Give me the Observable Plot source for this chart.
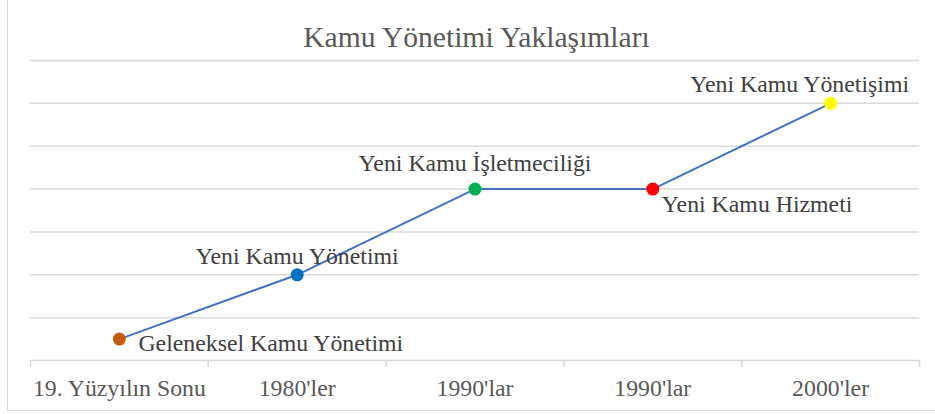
<!DOCTYPE html>
<html><head><meta charset="utf-8">
<script src="https://cdn.jsdelivr.net/npm/d3@7"></script>
<script src="https://cdn.jsdelivr.net/npm/@observablehq/plot@0.6"></script>
<style>
body{margin:0;background:#fff;}
#wrap{position:relative;width:935px;height:414px;overflow:hidden;}
#wrap svg{position:absolute;left:0;top:0;}
#border{position:absolute;left:7px;top:0;width:928px;height:411px;border-left:1.3px solid #d9d9d9;border-bottom:1.3px solid #d9d9d9;pointer-events:none;box-sizing:border-box;}
</style></head><body><div id="wrap"><div id="border"></div></div>
<script>
const title = "Kamu Yönetimi Yaklaşımları";
const categories = ["19. Yüzyılın Sonu", "1980'ler", "1990'lar", "1990'lar", "2000'ler"];
const approaches = ["Geleneksel Kamu Yönetimi", "Yeni Kamu Yönetimi", "Yeni Kamu İşletmeciliği", "Yeni Kamu Hizmeti", "Yeni Kamu Yönetişimi"];
const values = [0.5, 2, 4, 4, 6];
const pointColors = ["#C55A11", "#0070C0", "#00B050", "#FF0000", "#FFFF00"];
const yTicks = [0, 1, 2, 3, 4, 5, 6, 7];

// label placement relative to each point (text anchor, horizontal offset, baseline offset)
const labelPlacement = [
  {anchor: "start", dx: 19, dy: 11.7},
  {anchor: "middle", dx: 0, dy: -11},
  {anchor: "middle", dx: 0, dy: -18},
  {anchor: "start", dx: 9, dy: 22.7},
  {anchor: "middle", dx: -31, dy: -11.3}
];

const data = categories.map((c, i) => ({i, category: c, approach: approaches[i], value: values[i], color: pointColors[i]}));
const boundaries = d3.range(categories.length + 1).map(i => i - 0.5);
const font = "'Liberation Serif', 'Times New Roman', serif";

const chart = Plot.plot({
  width: 935,
  height: 414,
  marginLeft: 30,
  marginRight: 16,
  marginTop: 60,
  marginBottom: 54,
  style: {fontFamily: font, background: "transparent"},
  x: {type: "linear", domain: [-0.5, categories.length - 0.5], axis: null, label: null},
  y: {domain: [0, 7], axis: null, label: null},
  color: {type: "identity"},
  marks: [
    Plot.ruleY(yTicks, {stroke: "#d9d9d9", strokeWidth: 1.5}),
    Plot.axisX({ticks: boundaries, tickSize: 7, tickFormat: () => "", label: null, stroke: "#d9d9d9", strokeWidth: 1.5, strokeOpacity: 1}),
    Plot.text(data, {x: "i", y: () => 0, text: "category", dy: 35, lineAnchor: "bottom", fontSize: 23.8, fill: "#595959"}),
    Plot.line(data, {x: "i", y: "value", stroke: "#4472C4", strokeWidth: 2}),
    Plot.dot(data, {x: "i", y: "value", r: 6.5, fill: "color", stroke: null}),
    ...labelPlacement.map((p, i) => Plot.text([data[i]], {
      x: "i", y: "value", text: "approach", textAnchor: p.anchor, dx: p.dx, dy: p.dy,
      lineAnchor: "bottom", fontSize: 23.8, fill: "#404040"
    })),
    Plot.text([title], {frameAnchor: "top", dx: 1.5, dy: -13.3, lineAnchor: "bottom", fontSize: 29.6, fill: "#595959"})
  ]
});
document.getElementById("wrap").prepend(chart);
</script>
</body></html>
